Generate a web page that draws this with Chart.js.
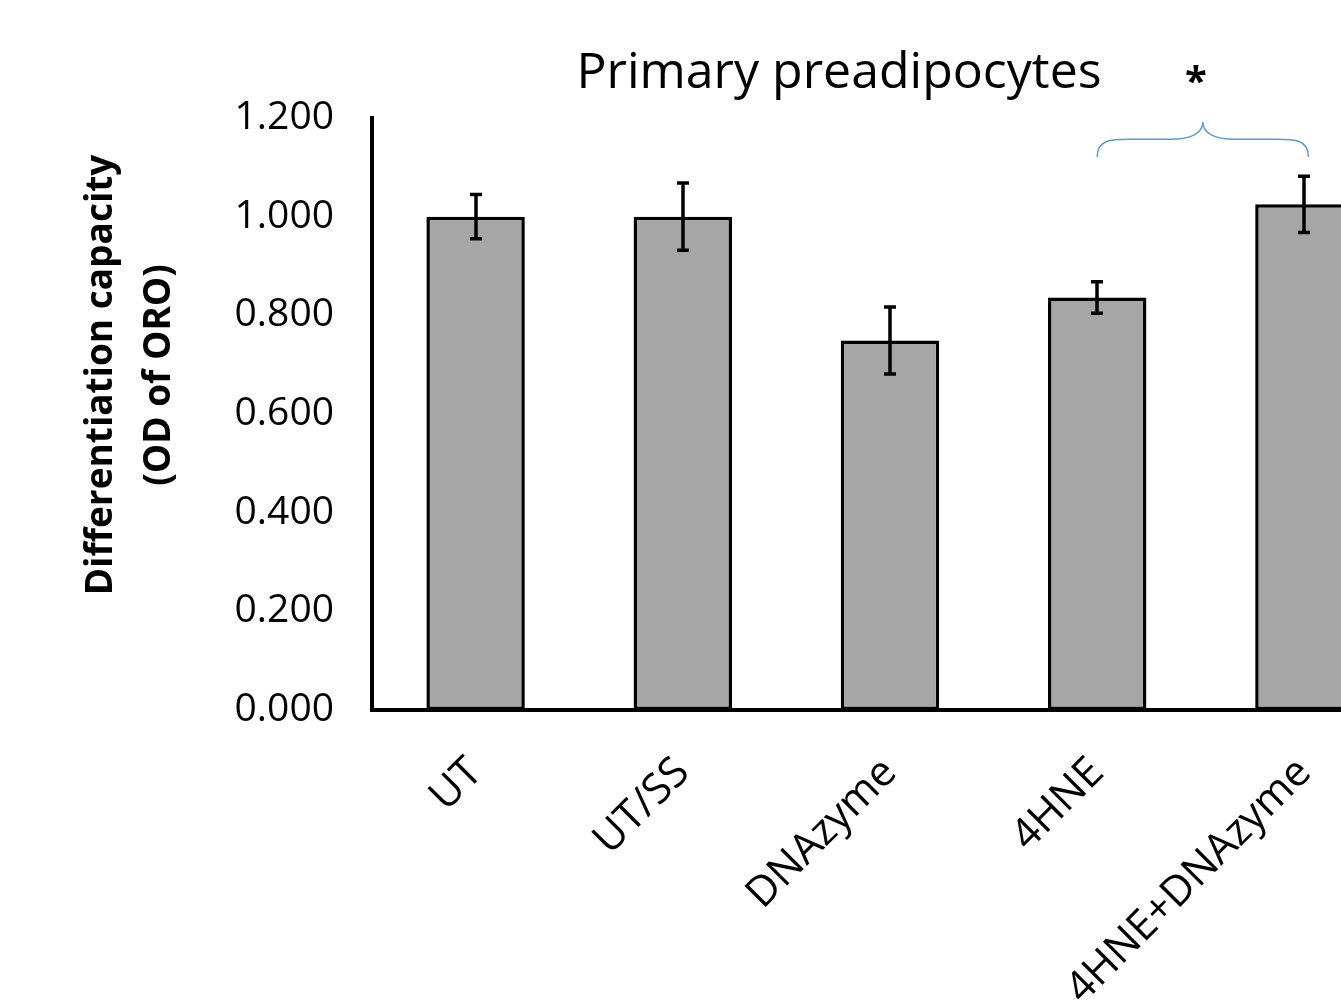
<!DOCTYPE html>
<html>
<head>
<meta charset="utf-8">
<script src="https://cdn.jsdelivr.net/npm/chart.js@4"></script>
<style>
  html, body { margin: 0; padding: 0; background: #fff; overflow: hidden; }
  #wrap { position: relative; width: 1408px; height: 1000px; }
</style>
</head>
<body>
<div id="wrap"><canvas id="c"></canvas></div>
<script>
const categories = ['UT', 'UT/SS', 'DNAzyme', '4HNE', '4HNE+DNAzyme'];
const means = [1.000, 1.000, 0.749, 0.836, 1.025];
const errors = [0.045, 0.068, 0.068, 0.032, 0.057];
const yMin = 0, yMax = 1.2, yStep = 0.2;
const chartTitle = 'Primary preadipocytes';
const yTitle = ['Differentiation capacity', '(OD of ORO)'];
const sigLabel = '*';
const sigPair = [3, 4];

const FONT = '"Open Sans", "Liberation Sans", sans-serif';

const overlay = {
  id: 'overlay',
  afterDatasetsDraw(chart) {
    const ctx = chart.ctx, ys = chart.scales.y;
    const meta = chart.getDatasetMeta(0);
    ctx.save();
    ctx.strokeStyle = '#000';
    ctx.lineWidth = 3.5;
    ctx.lineCap = 'butt';
    meta.data.forEach((bar, i) => {
      const cx = Math.round(bar.x);
      const yt = ys.getPixelForValue(means[i] + errors[i]);
      const yb = ys.getPixelForValue(means[i] - errors[i]);
      ctx.beginPath();
      ctx.moveTo(cx, yt); ctx.lineTo(cx, yb);
      ctx.moveTo(cx - 6, yt); ctx.lineTo(cx + 6, yt);
      ctx.moveTo(cx - 6, yb); ctx.lineTo(cx + 6, yb);
      ctx.stroke();
    });
    ctx.restore();
  },
  afterDraw(chart) {
    const ctx = chart.ctx, xs = chart.scales.x, ys = chart.scales.y;
    ctx.save();
    // chart title
    ctx.fillStyle = '#000';
    ctx.font = '50px ' + FONT;
    ctx.textAlign = 'center';
    ctx.textBaseline = 'alphabetic';
    ctx.fillText(chartTitle, 839, 88);
    // y axis title
    ctx.save();
    ctx.translate(101, 375);
    ctx.rotate(-Math.PI / 2);
    ctx.font = 'bold 37px ' + FONT;
    ctx.textBaseline = 'middle';
    ctx.fillText(yTitle[0], 0, 0);
    ctx.translate(0, 58);
    ctx.fillText(yTitle[1], 0, 0);
    ctx.restore();
    // significance brace
    const x1 = xs.getPixelForValue(sigPair[0]);
    const x2 = xs.getPixelForValue(sigPair[1]) + 4;
    const xm = (x1 + x2) / 2;
    const yEnd = ys.getPixelForValue(1.121);
    const yFlat = ys.getPixelForValue(1.157);
    const yTip = ys.getPixelForValue(1.192);
    ctx.strokeStyle = '#5B9BD5';
    ctx.lineWidth = 1.5;
    ctx.beginPath();
    ctx.moveTo(x1, yEnd);
    ctx.bezierCurveTo(x1, yFlat, x1 + 14, yFlat, x1 + 32, yFlat);
    ctx.lineTo(xm - 32, yFlat);
    ctx.bezierCurveTo(xm - 12, yFlat, xm, yFlat - 6, xm, yTip);
    ctx.bezierCurveTo(xm, yFlat - 6, xm + 12, yFlat, xm + 32, yFlat);
    ctx.lineTo(x2 - 32, yFlat);
    ctx.bezierCurveTo(x2 - 14, yFlat, x2, yFlat, x2, yEnd);
    ctx.stroke();
    // asterisk
    ctx.fillStyle = '#000';
    ctx.font = 'bold 40px ' + FONT;
    ctx.textAlign = 'center';
    ctx.textBaseline = 'middle';
    ctx.fillText(sigLabel, xm - 7, ys.getPixelForValue(1.27));
    ctx.restore();
  }
};

new Chart(document.getElementById('c'), {
  type: 'bar',
  data: {
    labels: categories,
    datasets: [{
      data: means,
      backgroundColor: '#A6A6A6',
      borderColor: '#000',
      borderWidth: 3.5,
      borderSkipped: false,
      categoryPercentage: 1.0,
      barPercentage: 0.475
    }]
  },
  options: {
    responsive: true,
    maintainAspectRatio: false,
    animation: false,
    layout: { padding: { top: 118, left: 0, right: 0, bottom: 0 } },
    plugins: { legend: { display: false }, title: { display: false }, tooltip: { enabled: false } },
    scales: {
      x: {
        grid: { display: false, drawTicks: false },
        border: { display: true, color: '#000', width: 4 },
        ticks: {
          color: '#000',
          font: { family: FONT, size: 42 },
          minRotation: 45,
          maxRotation: 45,
          padding: 38,
          autoSkip: false
        },
        afterFit(scale) { scale.height = 290; }
      },
      y: {
        min: yMin,
        max: yMax,
        grid: { display: false, drawTicks: false },
        border: { display: true, color: '#000', width: 4 },
        ticks: {
          stepSize: yStep,
          color: '#000',
          font: { family: FONT, size: 39 },
          padding: 38,
          callback: v => Number(v).toFixed(3)
        },
        afterFit(scale) { scale.width = 372; }
      }
    }
  },
  plugins: [overlay]
});
</script>
</body>
</html>
